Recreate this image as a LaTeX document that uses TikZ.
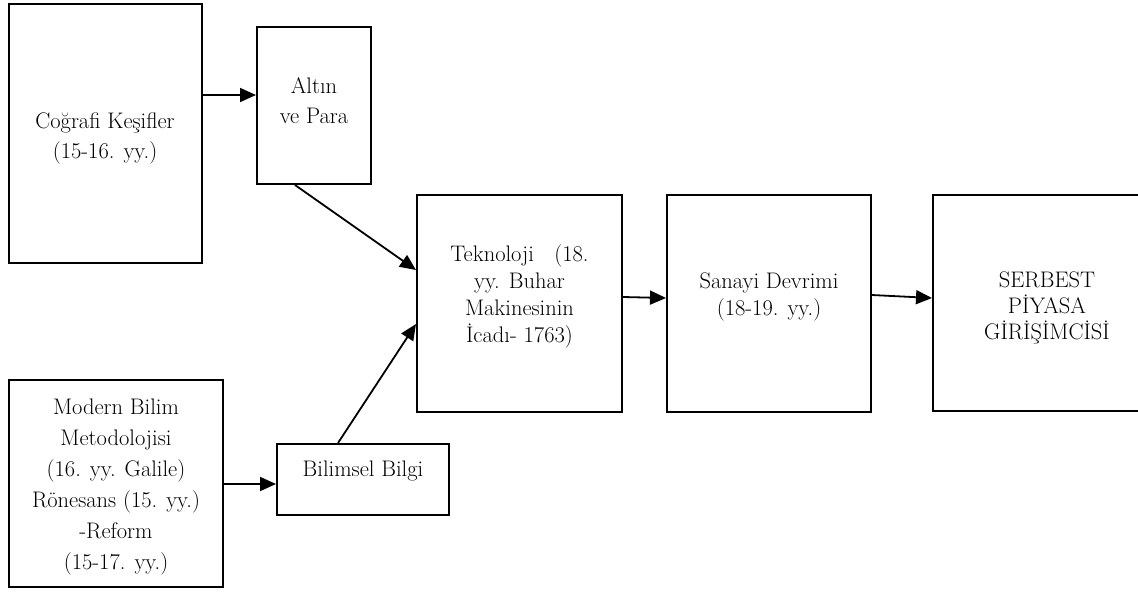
\documentclass[tikz,border=0pt]{standalone}
\usepackage{fontspec}
\usetikzlibrary{arrows.meta}
\tikzset{
  box/.style={draw=black, line width=2pt, rectangle, inner sep=0pt},
  txt/.style={align=center, inner sep=0pt, font=\fontsize{22.5}{30}\selectfont},
  arr/.style={line width=1.8pt, -{Triangle[length=16pt,width=14pt]}}
}
\begin{document}
\begin{tikzpicture}[x=1pt,y=-1pt]
\path[use as bounding box, clip] (0,0) rectangle (1138,592);
% boxes
\node[box, minimum width=193pt, minimum height=259pt] (A) at (105.5,133.5) {};
\node[box, minimum width=114pt, minimum height=157pt] (B) at (314,105.5) {};
\node[box, minimum width=205pt, minimum height=217pt] (C) at (519.5,303.5) {};
\node[box, minimum width=204pt, minimum height=217pt] (D) at (769,303.5) {};
\node[box, minimum width=228pt, minimum height=216pt] (E) at (1047,303) {};
\node[box, minimum width=214pt, minimum height=207pt] (F) at (116,483.5) {};
\node[box, minimum width=172pt, minimum height=71pt] (G) at (363,479.5) {};
% texts
\node[txt] (tA) at (105,138) {Coğrafi Keşifler\\(15-16. yy.)};
\node[txt] (tB) at (314,101) {Altın\\ve Para};
\node[txt, font=\fontsize{22.5}{27}\selectfont] (tC) at (519.5,296) {Teknoloji\ \ \ (18.\\yy. Buhar\\Makinesinin\\İcadı- 1763)};
\node[txt, font=\fontsize{22.5}{27}\selectfont] (tD) at (769,297) {Sanayi Devrimi\\(18-19. yy.)};
\node[txt, font=\fontsize{22.5}{26}\selectfont] (tE) at (1047,308) {SERBEST\\PİYASA\\GİRİŞİMCİSİ};
\node[txt, font=\fontsize{22.5}{31}\selectfont] (tF) at (116,487) {Modern Bilim\\Metodolojisi\\(16. yy. Galile)\\Rönesans (15. yy.)\\-Reform\\(15-17. yy.)};
\node[txt] (tG) at (363,471) {Bilimsel Bilgi};
% connectors
\draw[arr] ([yshift=-92pt]A.north east) -- ([yshift=-92pt]A.north east -| B.west);
\draw[arr] ([xshift=-19pt]B.south) -- ([yshift=33.5pt]C.west);
\draw[arr] ([xshift=-25pt]G.north) -- ([yshift=-20.5pt]C.west);
\draw[arr] ([yshift=-0.5pt]F.east) -- ([yshift=-0.5pt]F.east -| G.west);
\draw[arr] ([yshift=6.5pt]C.east) -- ([yshift=5.5pt]D.west);
\draw[arr] ([yshift=8.5pt]D.east) -- ([yshift=5pt]E.west);
\end{tikzpicture}
\end{document}
